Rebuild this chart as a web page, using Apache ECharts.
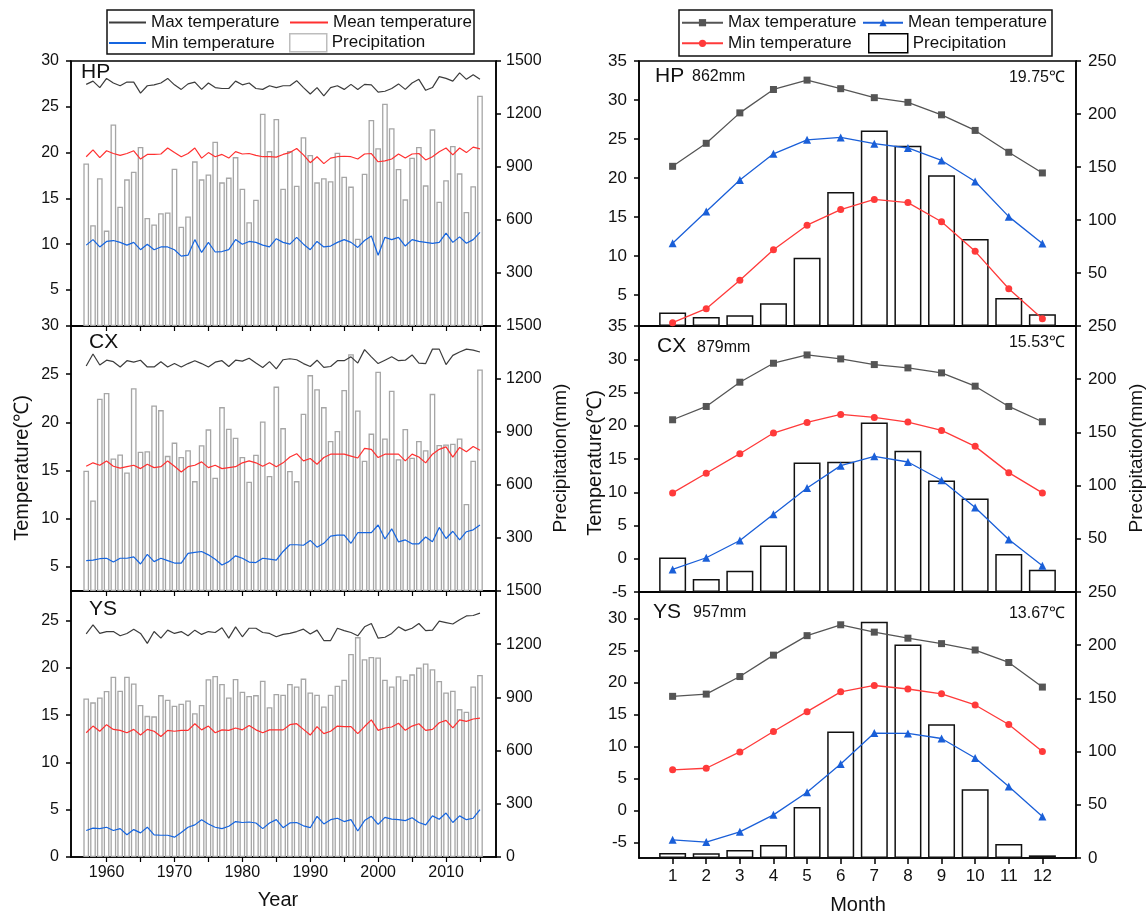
<!DOCTYPE html>
<html>
<head>
<meta charset="utf-8">
<title>HP / CX / YS temperature and precipitation</title>
<script src="https://cdn.jsdelivr.net/npm/echarts@6/dist/echarts.min.js"></script>
<style>
    html, body { margin: 0; padding: 0; background: #fff; }
    #chart { width: 1148px; height: 916px; }
</style>
</head>
<body>
<div id="chart"></div>
<script>
/**
 * annual series, left column (1957-2015)
 */
const years = [1957, 1958, 1959, 1960, 1961, 1962, 1963, 1964, 1965, 1966,
    1967, 1968, 1969, 1970, 1971, 1972, 1973, 1974, 1975, 1976,
    1977, 1978, 1979, 1980, 1981, 1982, 1983, 1984, 1985, 1986,
    1987, 1988, 1989, 1990, 1991, 1992, 1993, 1994, 1995, 1996,
    1997, 1998, 1999, 2000, 2001, 2002, 2003, 2004, 2005, 2006,
    2007, 2008, 2009, 2010, 2011, 2012, 2013, 2014, 2015];
const yearTicks = [1960, 1965, 1970, 1975, 1980, 1985, 1990, 1995, 2000, 2005, 2010, 2015];
const yearLabels = [1960, 1970, 1980, 1990, 2000, 2010];

// HP
const hpPrecip = [920, 570, 836, 540, 1141, 675, 830, 873, 1013, 611, 575, 638, 643, 890, 562, 620, 932, 830, 858, 1043,
    813, 840, 956, 777, 587, 715, 1202, 990, 1172, 777, 990, 794, 1068, 968, 813, 836, 819, 981, 845, 789,
    494, 862, 1166, 1006, 1258, 1119, 889, 717, 953, 1013, 796, 1113, 704, 825, 1019, 864, 645, 791, 1304];
const hpMax = [27.45, 27.8, 27.1, 28.1, 27.6, 27.3, 27.7, 27.7, 26.5, 27.3, 27.4, 27.6, 28.1, 27.4, 26.9, 27.5, 27.7, 26.9, 27.6, 27.1,
    27.0, 27.0, 27.8, 27.4, 27.6, 27.0, 26.9, 27.3, 27.1, 27.3, 27.3, 27.85, 27.1, 26.4, 27.1, 26.2, 27.1, 27.3, 26.9, 27.45,
    26.9, 27.45, 27.4, 26.6, 26.7, 27.0, 27.5, 26.9, 27.6, 28.0, 26.8, 27.1, 28.3, 28.1, 27.8, 28.7, 28.0, 28.5, 28.0];
const hpMean = [19.55, 20.3, 19.45, 20.2, 19.9, 19.7, 19.9, 20.2, 19.3, 19.8, 19.8, 19.85, 20.5, 20.0, 19.55, 19.9, 20.5, 19.4, 20.0, 19.55,
    19.8, 19.4, 20.1, 19.85, 19.9, 19.7, 19.55, 19.55, 19.5, 19.8, 20.0, 20.45, 19.75, 18.9, 19.55, 18.8, 19.4, 19.55, 19.6, 19.55,
    19.3, 19.85, 19.9, 19.0, 19.1, 19.3, 19.85, 19.4, 19.85, 19.9, 19.2, 19.55, 20.1, 20.5, 19.75, 20.5, 20.0, 20.6, 20.4];
const hpMin = [9.9, 10.5, 9.7, 10.3, 10.4, 10.2, 9.9, 10.2, 9.4, 10.0, 9.4, 9.7, 9.7, 9.4, 8.7, 8.8, 10.5, 9.1, 10.2, 9.15,
    9.2, 9.4, 10.5, 10.0, 10.3, 10.2, 9.9, 9.7, 10.6, 10.2, 10.0, 10.75, 10.0, 9.4, 10.3, 9.7, 9.8, 10.2, 10.5, 10.2,
    9.65, 10.4, 10.9, 8.8, 10.75, 10.5, 10.75, 9.8, 10.5, 10.3, 10.2, 10.1, 10.2, 11.2, 10.2, 10.8, 10.1, 10.5, 11.3];

// CX
const cxPrecip = [681, 512, 1088, 1121, 750, 773, 671, 1148, 788, 791, 1050, 1024, 765, 840, 759, 797, 622, 825, 915, 641,
    1041, 919, 868, 759, 619, 771, 960, 651, 1157, 922, 679, 622, 1003, 1222, 1142, 1041, 849, 906, 1138, 1340,
    1022, 737, 891, 1241, 863, 1134, 746, 917, 754, 849, 797, 1116, 827, 829, 834, 863, 493, 737, 1254];
const cxMax = [25.85, 27.1, 25.95, 26.45, 26.3, 25.75, 26.4, 26.25, 26.45, 25.75, 25.75, 26.3, 25.75, 26.1, 25.75, 26.1, 26.4, 26.1, 25.75, 26.25,
    26.4, 25.8, 26.45, 26.35, 26.65, 26.15, 25.7, 26.3, 25.55, 26.5, 26.6, 26.5, 26.1, 25.8, 26.45, 25.7, 25.8, 26.4, 26.4, 26.8,
    26.15, 27.55, 26.8, 26.1, 26.45, 26.8, 26.4, 26.45, 27.0, 26.15, 26.1, 27.6, 27.6, 26.0, 26.95, 27.3, 27.6, 27.5, 27.3];
const cxMean = [15.45, 15.8, 15.55, 16.0, 15.45, 15.25, 15.4, 15.55, 15.2, 15.65, 15.3, 15.4, 16.0, 15.45, 14.85, 15.4, 15.55, 15.9, 15.3, 15.55,
    15.2, 15.3, 15.4, 15.8, 16.0, 15.8, 15.45, 15.8, 15.4, 15.8, 16.4, 16.75, 16.0, 16.25, 15.65, 16.35, 16.7, 16.7, 16.7, 16.5,
    16.3, 17.3, 17.2, 16.35, 16.7, 16.7, 16.7, 16.0, 16.7, 16.4, 15.8, 16.7, 17.2, 17.45, 16.4, 17.4, 16.95, 17.5, 17.1];
const cxMin = [5.65, 5.7, 5.85, 5.9, 5.5, 5.9, 5.9, 6.05, 5.3, 6.3, 5.55, 5.9, 5.65, 5.4, 5.4, 6.4, 6.5, 6.6, 6.25, 5.8,
    5.2, 5.55, 6.15, 5.9, 5.5, 5.45, 5.9, 5.8, 5.7, 6.6, 7.3, 7.3, 7.25, 7.75, 7.05, 7.45, 8.2, 8.3, 8.3, 7.45,
    8.55, 8.55, 8.55, 9.35, 7.9, 8.95, 7.6, 7.8, 7.4, 7.4, 8.1, 7.6, 9.1, 7.95, 8.7, 7.8, 8.65, 8.85, 9.35];

// YS
const ysPrecip = [894, 872, 900, 936, 1017, 938, 1017, 979, 857, 796, 793, 913, 887, 853, 864, 883, 811, 857, 1002, 1021,
    976, 900, 1004, 932, 908, 913, 994, 845, 919, 915, 976, 962, 1006, 928, 915, 849, 915, 966, 1000, 1145,
    1240, 1115, 1128, 1125, 1000, 962, 1019, 1000, 1030, 1068, 1091, 1059, 993, 928, 938, 834, 819, 962, 1027];
const ysMax = [23.6, 24.55, 23.65, 23.85, 23.85, 23.4, 23.65, 24.1, 23.65, 22.6, 23.85, 23.15, 24.0, 23.65, 23.85, 23.4, 24.0, 23.55, 23.85, 23.75,
    24.25, 23.15, 24.35, 23.3, 24.2, 24.2, 23.75, 23.65, 23.3, 23.55, 23.65, 23.85, 24.1, 23.6, 24.0, 22.9, 22.9, 24.2, 23.95, 23.75,
    23.4, 24.35, 24.7, 23.15, 23.25, 23.65, 24.35, 23.95, 24.2, 24.7, 23.95, 24.0, 24.95, 24.8, 24.65, 25.1, 25.5, 25.55, 25.8];
const ysMean = [13.15, 13.85, 13.3, 14.0, 13.5, 13.4, 13.15, 13.5, 12.9, 13.5, 13.3, 12.75, 13.4, 13.3, 13.4, 13.4, 14.1, 13.45, 13.85, 13.15,
    13.45, 13.4, 13.65, 13.45, 13.9, 13.45, 13.15, 13.45, 13.45, 13.45, 14.0, 14.1, 13.5, 12.9, 13.8, 13.05, 13.3, 13.85, 13.8, 13.8,
    13.05, 13.8, 14.5, 13.4, 13.65, 13.75, 14.15, 13.4, 13.85, 14.1, 13.4, 13.5, 14.2, 14.45, 13.65, 14.5, 14.35, 14.6, 14.7];
const ysMin = [2.8, 3.05, 3.0, 3.15, 2.8, 3.0, 2.35, 2.9, 2.55, 3.15, 2.35, 2.3, 2.3, 2.1, 2.6, 3.15, 3.4, 3.95, 3.5, 3.15,
    3.0, 3.25, 3.75, 3.65, 3.7, 3.6, 3.0, 3.6, 3.95, 3.1, 3.6, 3.65, 3.3, 3.1, 4.3, 3.5, 3.95, 4.1, 3.75, 3.95,
    2.75, 3.85, 4.3, 3.45, 4.2, 4.0, 3.95, 3.85, 4.15, 3.65, 3.4, 4.35, 4.0, 4.65, 3.65, 4.35, 3.95, 4.1, 5.0];

/**
 * monthly climatology, right column
 */
const months = [1, 2, 3, 4, 5, 6, 7, 8, 9, 10, 11, 12];

const hpMonPrecip = [12.7, 8.6, 10.2, 21.5, 64.4, 126.5, 184.5, 170.1, 142.2, 82.0, 26.5, 11.1];
const hpMonMax = [21.5, 24.45, 28.35, 31.35, 32.55, 31.45, 30.3, 29.7, 28.1, 26.1, 23.3, 20.65];
const hpMonMean = [11.65, 15.7, 19.75, 23.1, 24.9, 25.2, 24.4, 23.85, 22.25, 19.55, 15.05, 11.6];
const hpMonMin = [1.45, 3.25, 6.9, 10.8, 13.95, 15.95, 17.25, 16.85, 14.4, 10.6, 5.8, 1.95];

const cxMonPrecip = [32.5, 12.2, 20.0, 43.8, 121.6, 122.5, 159.4, 132.8, 104.7, 87.8, 35.6, 20.9];
const cxMonMax = [20.9, 22.9, 26.55, 29.4, 30.65, 30.05, 29.2, 28.7, 27.95, 25.95, 22.9, 20.6];
const cxMonMean = [-1.6, 0.15, 2.75, 6.7, 10.65, 14.0, 15.4, 14.55, 11.8, 7.7, 2.9, -1.05];
const cxMonMin = [9.9, 12.85, 15.8, 18.9, 20.5, 21.7, 21.25, 20.55, 19.3, 16.9, 12.95, 9.9];

const ysMonPrecip = [4.7, 4.4, 7.5, 12.2, 48.0, 119.0, 222.0, 200.6, 125.7, 64.6, 13.2, 2.5];
const ysMonMax = [17.85, 18.2, 20.95, 24.3, 27.35, 29.05, 27.9, 26.95, 26.1, 25.1, 23.15, 19.3];
const ysMonMean = [-4.6, -4.95, -3.35, -0.7, 2.85, 7.25, 12.1, 12.05, 11.25, 8.2, 3.75, -0.95];
const ysMonMin = [6.35, 6.6, 9.15, 12.35, 15.45, 18.55, 19.55, 19.0, 18.25, 16.5, 13.45, 9.2];

// station captions (right column)
const stations = ['HP', 'CX', 'YS'];
const annualPrecipText = ['862mm', '879mm', '957mm'];
const annualTempText = ['19.75℃', '15.53℃', '13.67℃'];

// tick labels
const leftTempTicks = [[5, 10, 15, 20, 25, 30], [5, 10, 15, 20, 25, 30], [0, 5, 10, 15, 20, 25]];
const leftPrecipTicks = [[300, 600, 900, 1200, 1500], [300, 600, 900, 1200, 1500], [0, 300, 600, 900, 1200, 1500]];
const rightTempTicks = [[5, 10, 15, 20, 25, 30, 35], [-5, 0, 5, 10, 15, 20, 25, 30, 35], [-5, 0, 5, 10, 15, 20, 25, 30]];
const rightPrecipTicks = [[50, 100, 150, 200, 250], [50, 100, 150, 200, 250], [0, 50, 100, 150, 200, 250]];

const FONT = 'Arial, "Liberation Sans", sans-serif';

/**
 * panel layout
 */
const leftPanels = [
    {top: 61, height: 265, tMin: 1.07, tMax: 30, precip: hpPrecip, max: hpMax, mean: hpMean, min: hpMin},
    {top: 326, height: 265, tMin: 2.5, tMax: 30, precip: cxPrecip, max: cxMax, mean: cxMean, min: cxMin},
    {top: 591, height: 266, tMin: 0, tMax: 28.14, precip: ysPrecip, max: ysMax, mean: ysMean, min: ysMin}
];
const rightPanels = [
    {top: 61, height: 265, tMin: 1.03, tMax: 35, precip: hpMonPrecip, max: hpMonMax, mean: hpMonMean, min: hpMonMin},
    {top: 326, height: 266, tMin: -5, tMax: 35, precip: cxMonPrecip, max: cxMonMax, mean: cxMonMean, min: cxMonMin},
    {top: 592, height: 266, tMin: -7.45, tMax: 34.18, precip: ysMonPrecip, max: ysMonMax, mean: ysMonMean, min: ysMonMin}
];

const grids = [];
const xAxes = [];
const yAxes = [];
const series = [];

// plain numbers, no thousands separator
const plain = v => String(v);

function axisLineStyle() {
    return {show: true, onZero: false, lineStyle: {color: '#000', width: 1.5}};
}

function valueYAxis(gridIndex, position, min, max, ticks, fontSize, margin) {
    return {
        type: 'value', gridIndex: gridIndex, position: position, min: min, max: max,
        axisLine: axisLineStyle(),
        axisTick: {show: true, inside: false, length: 5, customValues: ticks, lineStyle: {color: '#000', width: 1.5}},
        axisLabel: {show: true, customValues: ticks, formatter: plain, margin: margin,
            fontSize: fontSize, fontFamily: FONT, color: '#111'},
        splitLine: {show: false}
    };
}

function pairs(xs, ys) {
    return xs.map((x, k) => [x, ys[k]]);
}

// left column: yearly series
leftPanels.forEach((p, i) => {
    const isBottom = i === 2;
    grids.push({left: 71, width: 425, top: p.top, height: p.height, show: true,
        borderColor: '#000', borderWidth: 1.5, outerBoundsMode: 'none'});
    xAxes.push({
        type: 'value', gridIndex: i, min: 1954.76, max: 2017.36,
        axisLine: axisLineStyle(),
        axisTick: {show: true, length: 5, customValues: yearTicks, lineStyle: {color: '#000', width: 1.2}},
        axisLabel: {show: isBottom, customValues: yearLabels, formatter: plain, margin: 8,
            fontSize: 16, fontFamily: FONT, color: '#111'},
        splitLine: {show: false}
    });
    const tIdx = yAxes.length;
    yAxes.push(valueYAxis(i, 'left', p.tMin, p.tMax, leftTempTicks[i], 16, 12));
    yAxes.push(valueYAxis(i, 'right', 0, 1500, leftPrecipTicks[i], 16, 10));

    series.push({
        name: 'Precipitation', type: 'bar', xAxisIndex: i, yAxisIndex: tIdx + 1,
        barWidth: 5.7, data: pairs(years, p.precip),
        itemStyle: {color: '#ffffff', borderColor: '#a6a6a6', borderWidth: 1.3}
    });
    [['Max temperature', p.max, '#3c3c3c'], ['Mean temperature', p.mean, '#ff3030'], ['Min temperature', p.min, '#1565e0']]
        .forEach(([name, arr, color]) => {
            series.push({
                name: name, type: 'line', xAxisIndex: i, yAxisIndex: tIdx,
                data: pairs(years, arr), symbol: 'none', color: color,
                lineStyle: {color: color, width: 1.2}, itemStyle: {color: color}
            });
        });
});

// right column: monthly climatology
rightPanels.forEach((p, i) => {
    const g = 3 + i;
    const isBottom = i === 2;
    grids.push({left: 639, width: 437, top: p.top, height: p.height, show: true,
        borderColor: '#000', borderWidth: 1.5, outerBoundsMode: 'none'});
    xAxes.push({
        type: 'value', gridIndex: g, min: 0, max: 13,
        axisLine: axisLineStyle(),
        axisTick: {show: isBottom, length: 6, customValues: months, lineStyle: {color: '#000', width: 1.5}},
        axisLabel: {show: isBottom, customValues: months, formatter: plain, margin: 10,
            fontSize: 17, fontFamily: FONT, color: '#111'},
        splitLine: {show: false}
    });
    const tIdx = yAxes.length;
    yAxes.push(valueYAxis(g, 'left', p.tMin, p.tMax, rightTempTicks[i], 17, 12));
    yAxes.push(valueYAxis(g, 'right', 0, 250, rightPrecipTicks[i], 17, 12));

    // trailing space keeps the right legend separate from the left one
    series.push({
        name: 'Precipitation ', type: 'bar', xAxisIndex: g, yAxisIndex: tIdx + 1,
        barWidth: 27, data: pairs(months, p.precip),
        itemStyle: {color: '#ffffff', borderColor: '#111', borderWidth: 1.5}
    });
    [['Max temperature ', p.max, '#555555', 'rect', 7],
        ['Mean temperature ', p.mean, '#1a5fd8', 'triangle', 8],
        ['Min temperature ', p.min, '#ff3a3a', 'circle', 7]]
        .forEach(([name, arr, color, symbol, size]) => {
            series.push({
                name: name, type: 'line', xAxisIndex: g, yAxisIndex: tIdx,
                data: pairs(months, arr), symbol: symbol, symbolSize: size, color: color,
                lineStyle: {color: color, width: 1.3}, itemStyle: {color: color}
            });
        });
});

/**
 * legend entries, one per item so the two rows line up like the original
 */
function legendItem(name, left, top, w, h, extra) {
    return Object.assign({
        data: [name], left: left, top: top, itemWidth: w, itemHeight: h, padding: 0,
        selectedMode: false, formatter: n => n.trim(),
        textStyle: {fontSize: 17, fontFamily: FONT, color: '#111', lineHeight: 18}
    }, extra || {});
}

const legends = [
    legendItem('Max temperature', 109, 13.5, 37, 2, {icon: 'rect'}),
    legendItem('Mean temperature', 290, 13.5, 38, 2, {icon: 'rect'}),
    legendItem('Min temperature', 109, 34, 37, 2, {icon: 'rect'}),
    legendItem('Precipitation', 289, 33, 37, 18, {icon: 'rect',
        itemStyle: {color: '#fff', borderColor: '#bdbdbd', borderWidth: 1.5}}),
    legendItem('Max temperature ', 681, 13.7, 41, 9),
    legendItem('Mean temperature ', 862, 13.7, 40, 9),
    legendItem('Min temperature ', 681, 34.3, 41, 9),
    legendItem('Precipitation ', 868, 33, 39, 19, {icon: 'rect',
        itemStyle: {color: '#fff', borderColor: '#000', borderWidth: 1.5}})
];

/**
 * free text: station tags, axis titles, legend frames
 */
function text(str, x, y, size, align, rotate) {
    return {
        type: 'text', x: x, y: y, rotation: rotate || 0, silent: true,
        style: {text: str, fill: '#111', font: size + 'px ' + FONT,
            textAlign: align || 'left', textVerticalAlign: 'middle'}
    };
}

const graphics = [
    {type: 'rect', shape: {x: 107, y: 10, width: 367, height: 44}, silent: true,
        style: {fill: 'none', stroke: '#111', lineWidth: 1.5}},
    {type: 'rect', shape: {x: 679, y: 10, width: 373, height: 46}, silent: true,
        style: {fill: 'none', stroke: '#111', lineWidth: 1.5}},
    text('HP', 81, 72.5, 21),
    text('CX', 89, 342.5, 21),
    text('YS', 89, 609.5, 21),
    text('Temperature(℃)', 22, 468, 20, 'center', Math.PI / 2),
    text('Precipitation(mm)', 561, 458, 19, 'center', Math.PI / 2),
    text('Temperature(℃)', 595, 463, 20, 'center', Math.PI / 2),
    text('Precipitation(mm)', 1137, 458, 19, 'center', Math.PI / 2),
    text('Year', 278, 900, 20, 'center'),
    text('Month', 858, 905, 20, 'center')
];
const stationY = [[76.5, 77, 78], [346.5, 347.5, 342.5], [612.5, 612.5, 614]];
const stationX = [[655, 692], [657, 697], [653, 693]];
stations.forEach((s, i) => {
    graphics.push(text(s, stationX[i][0], stationY[i][0], 21));
    graphics.push(text(annualPrecipText[i], stationX[i][1], stationY[i][1], 16));
    graphics.push(text(annualTempText[i], 1065, stationY[i][2], 16, 'right'));
});

let chart = echarts.init(document.getElementById('chart'), null, {renderer: 'canvas'});
chart.setOption({
    backgroundColor: '#ffffff',
    animation: false,
    textStyle: {fontFamily: FONT},
    legend: legends,
    grid: grids,
    xAxis: xAxes,
    yAxis: yAxes,
    series: series,
    graphic: graphics
});
</script>
</body>
</html>
